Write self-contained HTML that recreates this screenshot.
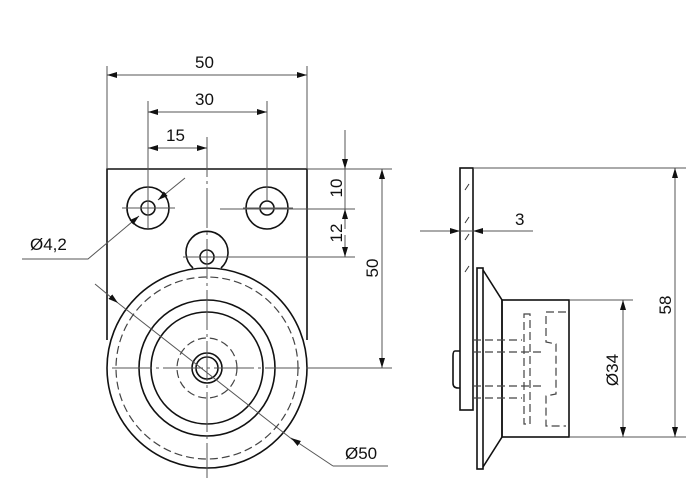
<!DOCTYPE html>
<html><head><style>body{margin:0;background:#fff}svg{display:block}text{font-family:"Liberation Sans",Arial,sans-serif;font-size:17px;fill:#111}</style></head>
<body>
<svg width="700" height="500" viewBox="0 0 700 500">
<defs>
<marker id="a" viewBox="0 0 10 6" refX="10" refY="3" markerWidth="10" markerHeight="6" markerUnits="userSpaceOnUse" orient="auto-start-reverse"><path d="M0,0L10,3L0,6Z" fill="#111"/></marker>
</defs>
<g stroke="#111" stroke-width="1.6" fill="none">
<path d="M107,340 L107,169 L307,169 L307,340"/>
<circle cx="148" cy="208" r="21"/><circle cx="148" cy="208" r="7"/>
<circle cx="267" cy="208" r="21"/><circle cx="267" cy="208" r="7"/>
<path d="M193,268 A21,21 0 1 1 221,268"/><circle cx="207" cy="257" r="7"/>
<circle cx="207" cy="368" r="100" fill="#fff"/>
<circle cx="207" cy="368" r="68"/><circle cx="207" cy="368" r="56"/>
<circle cx="207" cy="368" r="15"/><circle cx="207" cy="368" r="11"/>
<rect x="460" y="168" width="13" height="242"/>
<rect x="477" y="268" width="6" height="201"/>
<path d="M483,270 L502,300 L502,437 L483,467"/>
<rect x="502" y="300" width="67" height="137"/>
<path d="M460,351 L455,351 Q453,351 453,356 L453,383 Q453,388 458,388 L460,388"/>
</g>
<g stroke="#555" stroke-width="1" fill="none">
<line x1="107" y1="66" x2="107" y2="169"/><line x1="307" y1="66" x2="307" y2="169"/>
<line x1="148" y1="101" x2="148" y2="200"/><line x1="267" y1="101" x2="267" y2="200"/>
<line x1="307" y1="169" x2="392" y2="169"/><line x1="220" y1="209" x2="355" y2="209"/>
<line x1="220" y1="257" x2="355" y2="257"/><line x1="306" y1="368" x2="392" y2="368"/>
<line x1="473" y1="168" x2="686" y2="168"/><line x1="570" y1="437" x2="686" y2="437"/>
<line x1="570" y1="300" x2="633" y2="300"/>
<line x1="207" y1="137" x2="207" y2="478" stroke-dasharray="40,4,3,4"/>
<line x1="112" y1="368" x2="300" y2="368" stroke-dasharray="40,4,3,4"/>
<line x1="122" y1="208" x2="175" y2="208"/><line x1="148" y1="188" x2="148" y2="228"/>
<line x1="243" y1="208" x2="293" y2="208"/>
<line x1="183" y1="257" x2="230" y2="257"/>
<line x1="107" y1="75" x2="307" y2="75" marker-start="url(#a)" marker-end="url(#a)"/>
<line x1="148" y1="112" x2="267" y2="112" marker-start="url(#a)" marker-end="url(#a)"/>
<line x1="148" y1="148" x2="207" y2="148" marker-start="url(#a)" marker-end="url(#a)"/>
<line x1="345" y1="130" x2="345" y2="169" marker-end="url(#a)"/>
<line x1="345" y1="169" x2="345" y2="209"/>
<line x1="345" y1="209" x2="345" y2="229" marker-start="url(#a)"/>
<line x1="345" y1="235" x2="345" y2="257" marker-end="url(#a)"/>
<line x1="382" y1="169" x2="382" y2="368" marker-start="url(#a)" marker-end="url(#a)"/>
<line x1="675" y1="168" x2="675" y2="437" marker-start="url(#a)" marker-end="url(#a)"/>
<line x1="623" y1="300" x2="623" y2="437" marker-start="url(#a)" marker-end="url(#a)"/>
<line x1="420" y1="231" x2="460" y2="231" marker-end="url(#a)"/>
<line x1="460" y1="231" x2="473" y2="231"/>
<line x1="493" y1="231" x2="473" y2="231" marker-end="url(#a)"/>
<line x1="493" y1="231" x2="533" y2="231"/>
<polyline points="22,259 88,259 132,222"/>
<line x1="132" y1="222" x2="139" y2="216" marker-end="url(#a)"/>
<line x1="185" y1="178" x2="158" y2="200" marker-end="url(#a)"/>
<line x1="95" y1="284" x2="118" y2="303" marker-end="url(#a)"/>
<line x1="118" y1="303" x2="293" y2="440"/>
<polyline points="333,466 388,466"/>
<line x1="333" y1="466" x2="291" y2="438" marker-end="url(#a)"/>
</g>
<g stroke="#444" stroke-width="1.2" fill="none" stroke-dasharray="8,4">
<circle cx="207" cy="368" r="91"/><circle cx="207" cy="368" r="30"/>
<line x1="473" y1="340" x2="522" y2="340"/><line x1="473" y1="352" x2="545" y2="352"/>
<line x1="473" y1="386" x2="545" y2="386"/><line x1="473" y1="398" x2="522" y2="398"/>
<rect x="524" y="314" width="6" height="110"/>
<path d="M566,312 L546,312 L546,342 L556,344 L556,394 L546,396 L546,426 L566,426"/>
</g>
<g stroke="#333" stroke-width="1">
<line x1="465" y1="190" x2="469" y2="184"/><line x1="465" y1="223" x2="469" y2="217"/><line x1="465" y1="240" x2="469" y2="234"/><line x1="465" y1="272" x2="469" y2="266"/>
</g>
<text x="195" y="68">50</text>
<text x="195" y="105">30</text>
<text x="166" y="141">15</text>
<text x="515" y="225">3</text>
<text x="30" y="250">Ø4,2</text>
<text x="345" y="459">Ø50</text>
<text transform="translate(342,188) rotate(-90)" text-anchor="middle">10</text>
<text transform="translate(342,233) rotate(-90)" text-anchor="middle">12</text>
<text transform="translate(378,268) rotate(-90)" text-anchor="middle">50</text>
<text transform="translate(671,305) rotate(-90)" text-anchor="middle">58</text>
<text transform="translate(618,370) rotate(-90)" text-anchor="middle">Ø34</text>
</svg>
</body></html>
